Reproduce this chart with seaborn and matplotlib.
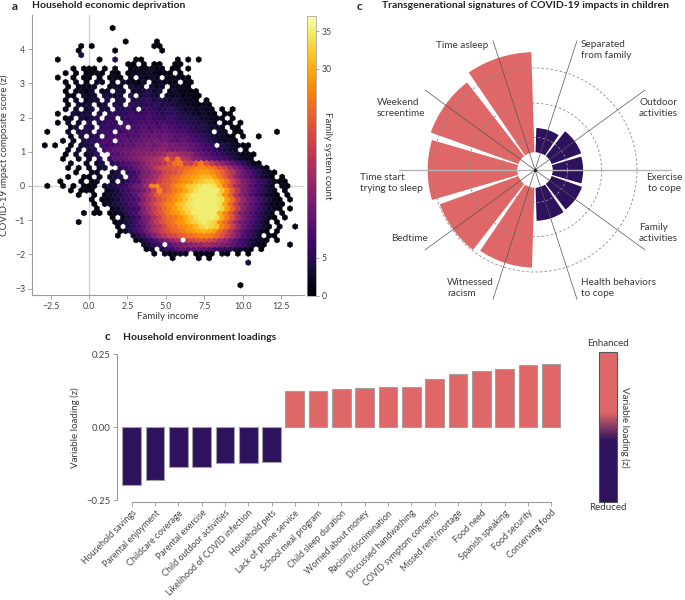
import numpy as np
import pandas as pd
import matplotlib
matplotlib.use("Agg")
import matplotlib.pyplot as plt
import seaborn as sns
from matplotlib.colors import Normalize, LinearSegmentedColormap
from matplotlib.cm import ScalarMappable

# ---------------------------------------------------------------
# panel a: hexbin counts.
# one character per hex cell, base-36 count, '.' = empty cell.
# rows run from top (y high) to bottom; ':' only helps counting.
HEX_X0 = -3.4      # x of first cell
HEX_SX = 0.34      # hex width (x units)
HEX_Y0 = -2.904    # y of bottom row
HEX_SY = 0.264     # distance between rows of the same lattice
HEX_NX, HEX_NY = 50, 29
HEX_ROWS = [
    "..........:....1.....:..........:..........:..........:.",
    "",
    "",
    "..........:.......1..:...1......:..........:..........:.",
    "........1.:1.........:..11......:..........:..........:.",
    "........1.:.....1....:....1.....:..........:..........:.",
    "........4.:..........:..........:..........:..........:.",
    "....1.....:..1..5...1:1......1.1:.1........:..........:.",
    "..........:.......11.:1.12..11..:..........:..........:.",
    ".......1.1:11.1.1..12:12311.11.1:..........:..........:.",
    ".....1.1.1:121.21.122:232121.1..:..........:..........:.",
    "....1..1.1:2.1.121.2.:3232.21211:..........:..........:.",
    ".....1.2.1:.32.2.3221:3.23212.21:..........:..........:.",
    "......1.12:23..232.43:3.423.3211:..........:..........:.",
    ".....1.231:3.23.43.33:4534.23221:1.........:..........:.",
    "......12.3:23.4434.5.:4543.32312:11........:..........:.",
    ".....2.3.2:33.4.44.45:5645434322:1.1.......:..........:.",
    "......1.33:4.34.54.65:5656454332:2121......:..........:.",
    ".....2.3.3:4.44.5565.:6765565433:2322.1.1..:..........:.",
    "....1..434:4.5.565676:6776566544:32321.11..:..........:.",
    ".....12.43:45.56.6677:7877676554:433221.1..:..........:.",
    "....1.3.3.:5.5676.877:8887877665:54432.21.1:..........:.",
    "......24.5:4.67678.88:9898988776:554332.21.:..........:.",
    "..1...3.45:5.677.7898:9a9a9a9887:6543.32.11:......1...:.",
    "......2.4.:55.7889899:aababa9998:76543321.1:..1.......:.",
    ".....2.3.4:56788.9a9a:abbcbba9a9:876543221.:..........:.",
    ".1.1..1.34:5.77899aab:bcbcdccbba:9876.54321:1.........:.",
    "......2.4.:45.89aabbc:cdcdedcccb:a98765432.:1.........:.",
    ".....1.3.3:46..99abcd:deefgihgfe:ba98765431:21........:.",
    ".....1..2.:3.5.7aabcd:efghjqkqih:edba987643:21........:.",
    "......2..2:.34.5689ab:dfghjmpqkj:mqmjgeca86:421.......:.",
    "......1.2.:2.34..678a:cegjlmnnop:qrrqpmkgdb:86431.....:.",
    ".......1..:23..34.679:cdfhklmoqr:sttsqolieb:975321....:.",
    "......1..1:1.2.345.78:cdfhkmoprs:tuvvtqnjfc:a86431.1..:.",
    "....1...1.:12..3.4689:dfhkmnprst:vwxxvsplhd:b9764211..:.",
    "..1..1.1.2:12.345679b:cgrsmnqsuw:xyzzyvqmhe:c97642.21.:.",
    "......1.12:1..234679a:cfkrmoqsuw:yzzzzwsnid:b97532.1..:.",
    "........1.:.1.2345789:dgjnoprtvx:zzzzzxsoie:b975321.1.:.",
    "..........:1.12346789:dgjmoqsuwy:zzzzzytpjf:ca86421.1.:.",
    "..........:.1.2345689:dgjmorsvwy:zzzzzyupkf:ca864211..:.",
    "..........:.1..234678:dgjmprtvxy:zzzzzxtoje:b975321.1.:.",
    ".........1:.11.123578:cfilnqstvx:zzzzzvrnid:b97532.1..:.",
    "..........:....1.2467:bdhknpqsuw:yzzzyuqmhd:a86421.1..:.",
    "........1.:.....13457:acgjmoqstv:xyzyxsplgc:a8642.1...:.",
    "..........:.....2.468:adgiloprst:vxyxwrokfb:97531.2..1:.",
    "..........:......1357:9cfhkmopqs:tuvutpmieb:86421.1...:.",
    "..........:.....1..35:7adgiklnop:qrrqomjgc9:753.11....:.",
    "..........:.........1:3579bdfh.k:lmmlkhfca8:64321.1...:.",
    "..........:..........:2457.9bcde:ffgfedca87:5321....1.:.",
    "..........:..........:.13.4679a9:aaa9876543:21.1......:.",
    "..........:..........:..1.21232.:1221.21.1.:1.........:.",
    "..........:..........:......1...:.1.1......:..........:.",
    "..........:..........:..........:..........:4.........:.",
    "",
    "",
    "",
    "",
    "..........:..........:..........:.........1:..........:.",
]

# panel c (top): transgenerational signatures, clockwise from top-right
POLAR_LABELS = ["Separated\nfrom family", "Outdoor\nactivities", "Exercise\nto cope",
                "Family\nactivities", "Health behaviors\nto cope", "Witnessed\nracism",
                "Bedtime", "Time start\ntrying to sleep", "Weekend\nscreentime", "Time asleep"]
POLAR_VALUES = [0.042, 0.050, 0.049, 0.051, 0.052, 0.105, 0.109, 0.116, 0.120, 0.128]
POLAR_DIRECTION = ["Reduced"] * 5 + ["Enhanced"] * 5
POLAR_RINGS = [0.0314, 0.07, 0.11]
POLAR_RING_LABELS = ["0.02", "0.07", "0.11"]

# panel c (bottom): household environment loadings
LOAD_LABELS = ["Household savings", "Parental enjoyment", "Childcare coverage", "Parental exercise",
               "Child outdoor activities", "Likelihood of COVID infection", "Household pets",
               "Lack of phone service", "School meal program", "Child sleep duration",
               "Worried about money", "Racism/discrimination", "Discussed handwashing",
               "COVID symptom concerns", "Missed rent/mortage", "Food need", "Spanish speaking",
               "Food security", "Conserving food"]
LOAD_VALUES = [-0.200, -0.181, -0.138, -0.138, -0.124, -0.123, -0.120,
               0.123, 0.125, 0.131, 0.134, 0.136, 0.137,
               0.166, 0.182, 0.192, 0.200, 0.212, 0.215]

RED = "#df6767"
PURPLE = "#2e125e"
TXT = "#3a3a3a"
GRID = "#9a9a9a"

sns.set_theme(style="white")
plt.rcParams["font.family"] = ["Lato", "DejaVu Sans"]
plt.rcParams["text.color"] = TXT
plt.rcParams["axes.labelcolor"] = TXT


def fx(px):
    return px / 685


def fy(py):
    return 1 - py / 600


fig = plt.figure(figsize=(6.85, 6.0), dpi=100)
fig.patch.set_facecolor("white")

# ---------------- panel a ----------------
hx, hy, hc = [], [], []
n_rows = len(HEX_ROWS)
for k, row in enumerate(HEX_ROWS):
    level = n_rows - 1 - k
    shift = 0.5 * (level % 2)
    for i, ch in enumerate(row.replace(":", "")):
        if ch != ".":
            hx.append(HEX_X0 + (i + shift) * HEX_SX)
            hy.append(HEX_Y0 + level * HEX_SY / 2)
            hc.append(int(ch, 36))

ax_a = fig.add_axes([fx(32), fy(295), fx(304) - fx(32), 280 / 600])
ax_a.axvline(0, color="#d0d0d0", lw=0.9, zorder=0)
ax_a.axhline(0, color="#d0d0d0", lw=0.9, zorder=0)
hb = ax_a.hexbin(hx, hy, C=hc, reduce_C_function=np.sum, mincnt=1,
                 gridsize=(HEX_NX, HEX_NY),
                 extent=(HEX_X0, HEX_X0 + HEX_NX * HEX_SX, HEX_Y0, HEX_Y0 + HEX_NY * HEX_SY),
                 cmap="inferno", vmin=0, vmax=37, linewidths=0.3, edgecolors="face", zorder=2)
ax_a.set_xlim(-3.72, 14.0)
ax_a.set_ylim(-3.19, 5.0)
ax_a.set_xticks([-2.5, 0, 2.5, 5, 7.5, 10, 12.5])
ax_a.set_xticklabels(["\u22122.5", "0.0", "2.5", "5.0", "7.5", "10.0", "12.5"])
ax_a.set_yticks(range(-3, 5))
for s in ["top", "right"]:
    ax_a.spines[s].set_visible(False)
for s in ["left", "bottom"]:
    ax_a.spines[s].set_color(GRID)
    ax_a.spines[s].set_linewidth(0.8)
ax_a.tick_params(labelsize=6.3, length=3, width=0.6, color=GRID, labelcolor="#444444", pad=2,
                 left=True, bottom=True)
ax_a.set_xlabel("Family income", fontsize=7)
ax_a.set_ylabel("COVID-19 impact composite score (z)", fontsize=7)
ax_a.xaxis.set_label_coords(0.5, -0.06)
ax_a.yaxis.set_label_coords(-0.084, 0.5)

cax_a = fig.add_axes([fx(307), fy(295.7), 8.5 / 685, 279.7 / 600])
cb = fig.colorbar(hb, cax=cax_a, ticks=[0, 5, 30, 35])
cb.outline.set_linewidth(0.5)
cb.outline.set_edgecolor("#999999")
cb.ax.tick_params(labelsize=6.3, length=2.5, width=0.6, color=GRID, labelcolor="#444444", pad=2)
cb.ax.set_ylabel("Family system count", rotation=270, fontsize=7, va="center")
cb.ax.yaxis.set_label_coords(2.45, 0.5)

fig.text(fx(12), fy(6), "a", fontsize=8.5, weight="bold", va="center", color="#222222")
fig.text(fx(32), fy(6), "Household economic deprivation", fontsize=7.5, weight="bold",
         va="center", color="#222222")

# ---------------- panel c (polar) ----------------
R_ORIGIN = -0.00555
R_MAX = 0.1485
HOLE = 0.0143
ax_p = fig.add_axes([fx(535 - 136), fy(170 + 136), 272 / 685, 272 / 600], projection="polar")
theta = np.deg2rad(72 - 36 * np.arange(len(POLAR_VALUES)))
ax_p.set_rorigin(R_ORIGIN)
ax_p.set_ylim(HOLE, R_MAX)
colors = [RED if d == "Enhanced" else PURPLE for d in POLAR_DIRECTION]
ax_p.bar(theta, np.array(POLAR_VALUES) - HOLE, width=np.deg2rad(32.4), bottom=HOLE,
         color=colors, edgecolor="none", zorder=1)
ax_p.set_xticks([])
ax_p.set_yticks(POLAR_RINGS)
ax_p.set_yticklabels([])
ax_p.yaxis.grid(True, color="#8c8c8c", ls=(0, (3, 2.5)), lw=0.6)
ax_p.xaxis.grid(False)
ax_p.set_axisbelow(False)
for sp in ax_p.spines.values():
    sp.set_visible(False)
    sp.set_color("none")
    sp.set_linewidth(0)
for t in theta:
    horiz = abs(np.cos(t)) > 0.999
    ax_p.plot([t, t], [R_ORIGIN, R_MAX], color="#b3b3b3" if horiz else "#555555",
              lw=1.0 if horiz else 0.5, clip_on=False, zorder=3)
ax_p.plot([0], [R_ORIGIN], marker="o", ms=1.4, color="#222222", clip_on=False, zorder=4)
for r, lab in zip(POLAR_RINGS, POLAR_RING_LABELS):
    ax_p.annotate(lab, xy=(0, r), xytext=(0.5, 1.5), textcoords="offset points",
                  ha="left", va="bottom", fontsize=7,
                  color="white" if r < 0.05 else "#444444", zorder=5)

POLAR_LABEL_POS = {
    "Time asleep": (488, 46, "right"),
    "Separated\nfrom family": (581, 50, "left"),
    "Weekend\nscreentime": (377, 108, "left"),
    "Outdoor\nactivities": (639, 108, "left"),
    "Time start\ntrying to sleep": (360, 183, "left"),
    "Exercise\nto cope": (664, 183, "center"),
    "Bedtime": (428, 238, "right"),
    "Family\nactivities": (639, 233, "left"),
    "Witnessed\nracism": (447, 288, "left"),
    "Health behaviors\nto cope": (581, 288, "left"),
}
for lab in POLAR_LABELS:
    px, py, ha = POLAR_LABEL_POS[lab]
    fig.text(fx(px), fy(py), lab, ha=ha, va="center", fontsize=7.2, linespacing=1.15,
             multialignment=ha if ha != "right" else "left", color=TXT)

fig.text(fx(357), fy(6), "c", fontsize=8.5, weight="bold", va="center", color="#222222")
fig.text(fx(382), fy(6), "Transgenerational signatures of COVID-19 impacts in children",
         fontsize=7.5, weight="bold", va="center", color="#222222")

# ---------------- panel c (bars) ----------------
df = pd.DataFrame({"variable": LOAD_LABELS, "loading": LOAD_VALUES})
df["direction"] = np.where(df["loading"] > 0, "Enhanced", "Reduced")

ax_b = fig.add_axes([fx(117), fy(501.5), (562.8 - 117) / 685, (501.5 - 354) / 600])
sns.barplot(data=df, x="variable", y="loading", hue="direction",
            palette={"Enhanced": RED, "Reduced": PURPLE}, dodge=False, legend=False,
            saturation=1, width=0.8, edgecolor="#a0a0a0", linewidth=0.8, ax=ax_b)
ax_b.set_xlim(-0.63, 18.5)
ax_b.set_ylim(-0.255, 0.25)
ax_b.set_yticks([-0.25, 0, 0.25])
ax_b.set_yticklabels(["\u22120.25", "0.00", "0.25"])
sns.despine(ax=ax_b, trim=True)
for s in ["left", "bottom"]:
    ax_b.spines[s].set_color(GRID)
    ax_b.spines[s].set_linewidth(0.8)
ax_b.tick_params(axis="y", labelsize=6.8, length=3, width=0.6, color=GRID,
                 labelcolor="#444444", pad=2, left=True)
ax_b.tick_params(axis="x", labelsize=6.4, length=3, width=0.6, color=GRID,
                 labelcolor="#444444", pad=2, bottom=True)
for lbl in ax_b.get_xticklabels():
    lbl.set_rotation(45)
    lbl.set_ha("right")
    lbl.set_rotation_mode("anchor")
ax_b.set_xlabel("")
ax_b.set_ylabel("Variable loading (z)", fontsize=7)
ax_b.yaxis.set_label_coords(-0.083, 0.5)

load_cmap = LinearSegmentedColormap.from_list(
    "loading", [(0, PURPLE), (0.41, PURPLE), (0.6, RED), (1, RED)])
cax_b = fig.add_axes([fx(599), fy(502), 18 / 685, 150 / 600])
cb2 = fig.colorbar(ScalarMappable(norm=Normalize(-0.25, 0.25), cmap=load_cmap), cax=cax_b)
cb2.set_ticks([])
cb2.outline.set_linewidth(0.8)
cb2.outline.set_edgecolor("#555555")
cb2.ax.set_ylabel("Variable loading (z)", rotation=270, fontsize=7, va="center")
cb2.ax.yaxis.set_label_coords(1.45, 0.5)
fig.text(fx(608), fy(343), "Enhanced", ha="center", va="center", fontsize=7)
fig.text(fx(608), fy(508), "Reduced", ha="center", va="center", fontsize=7)

fig.text(fx(105), fy(337), "c", fontsize=8.5, weight="bold", va="center", color="#222222")
fig.text(fx(123), fy(337), "Household environment loadings", fontsize=7.5, weight="bold",
         va="center", color="#222222")

fig.savefig("out.png", dpi=100)
